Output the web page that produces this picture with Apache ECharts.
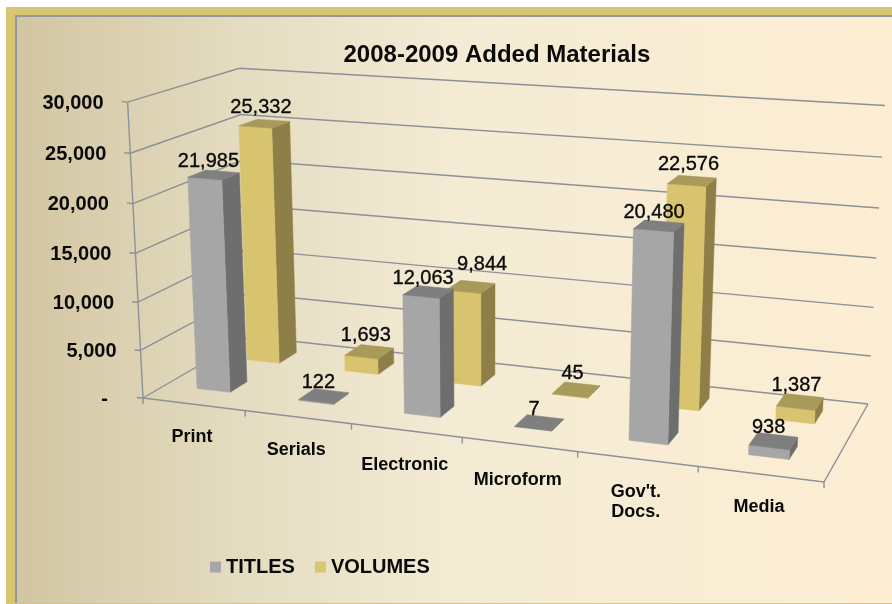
<!DOCTYPE html>
<html><head><meta charset="utf-8">
<style>html,body{margin:0;padding:0;background:#fff}#c{width:892px;height:604px}</style>
<script src="https://cdn.jsdelivr.net/npm/echarts@6/dist/echarts.min.js"></script>
</head><body><div id="c"></div>
<script>
const categories = ['Print','Serials','Electronic','Microform',"Gov't.\nDocs.",'Media'];
const titles = [21985,122,12063,7,20480,938];
const volumes = [25332,1693,9844,45,22576,1387];
const yTicks = [0,5000,10000,15000,20000,25000,30000];
const yTickLabels = ['-  ','5,000','10,000','15,000','20,000','25,000','30,000'];
const fmt = n => String(n).replace(/\B(?=(\d{3})+$)/g, ',');

// camera: a projective map of the plot box, fitted to where its corners land on screen
function makeCamera(q,tops){
  const [p0,p1,p2,p3]=q;
  const dx1=p1[0]-p2[0],dx2=p3[0]-p2[0],dx3=p0[0]-p1[0]+p2[0]-p3[0];
  const dy1=p1[1]-p2[1],dy2=p3[1]-p2[1],dy3=p0[1]-p1[1]+p2[1]-p3[1];
  const den=dx1*dy2-dx2*dy1;
  const g=(dx3*dy2-dx2*dy3)/den,h=(dx1*dy3-dx3*dy1)/den;
  const a=p1[0]-p0[0]+g*p1[0],b=p3[0]-p0[0]+h*p3[0],c=p0[0];
  const d=p1[1]-p0[1]+g*p1[1],e=p3[1]-p0[1]+h*p3[1],f=p0[1];
  // least squares for the height column (kx,ky,m)
  const rows=[];
  tops.forEach(([u,w,X,Y])=>{
    const S=g*u+h*w+1,Nx=a*u+b*w+c,Ny=d*u+e*w+f;
    rows.push([1,0,-X,X*S-Nx]);
    rows.push([0,1,-Y,Y*S-Ny]);
  });
  const A=[[0,0,0,0],[0,0,0,0],[0,0,0,0]];
  rows.forEach(r=>{for(let i=0;i<3;i++){for(let j=0;j<3;j++)A[i][j]+=r[i]*r[j];A[i][3]+=r[i]*r[3];}});
  for(let i=0;i<3;i++){
    let p=i;for(let k=i+1;k<3;k++)if(Math.abs(A[k][i])>Math.abs(A[p][i]))p=k;
    [A[i],A[p]]=[A[p],A[i]];
    for(let k=0;k<3;k++){if(k===i)continue;const t=A[k][i]/A[i][i];for(let j=i;j<4;j++)A[k][j]-=t*A[i][j];}
  }
  const kx=A[0][3]/A[0][0],ky=A[1][3]/A[1][1],m=A[2][3]/A[2][2];
  return (u,w,v)=>{const s=g*u+h*w+1+m*v;return [(a*u+b*w+c+kx*v)/s,(d*u+e*w+f+ky*v)/s];};
}
const camera = makeCamera([[143,398],[824,482],[868,404],[249,336.5]],
  [[0,0,128,102],[0,1,239,68],[1,1,885,106]]);
const GRID = {left:143,top:102,width:681,height:296};
function project(px,py,depth){
  return camera((px-GRID.left)/GRID.width,depth,(GRID.top+GRID.height-py)/GRID.height);
}
const LINE='#8d9097';
const DEPTH={TITLES:[0.2,0.36],VOLUMES:[0.66,0.84]};
const BAR=0.33, BAR_SHIFT={TITLES:-2.5,VOLUMES:0};
const textCol='#0a0a0a';
const LABEL_OFFSET=[[-7.5,-13.5],[-3.5,-16.5]];
const LABEL_NUDGE={'1:2':[15,-6]};
const CAT_NUDGE={2:2,3:3};

function barItem(name,front,side,top){
  return function(params,api){
    const i=api.value(0),val=api.value(1);
    const base=api.coord([i,0]),head=api.coord([i,val]);
    const half=api.size([1,0])[0]*BAR/2;
    const [d0,d1]=DEPTH[name];
    const xl=base[0]-half+BAR_SHIFT[name],xr=base[0]+half+BAR_SHIFT[name],y0=base[1],y1=head[1];
    const poly=(pts,fill)=>({type:'polygon',shape:{points:pts},style:{fill,stroke:fill,lineWidth:0.5}});
    return {type:'group',children:[
      poly([project(xr,y0,d0),project(xr,y0,d1),project(xr,y1,d1),project(xr,y1,d0)],side),
      poly([project(xl,y0,d0),project(xr,y0,d0),project(xr,y1,d0),project(xl,y1,d0)],front),
      poly([project(xl,y1,d0),project(xr,y1,d0),project(xr,y1,d1),project(xl,y1,d1)],top)
    ]};
  };
}
function labelItem(params,api){
  const i=api.value(0),val=api.value(1),s=api.value(2);
  const base=api.coord([i,val]);
  const d=s===0?DEPTH.TITLES:DEPTH.VOLUMES;
  const p=project(base[0],base[1],(d[0]+d[1])/2);
  const o=LABEL_OFFSET[s],n=LABEL_NUDGE[s+':'+i]||[0,0];
  return {type:'text',x:p[0]+o[0]+n[0],y:p[1]+o[1]+n[1],style:{text:fmt(val),fill:textCol,font:'20px "Liberation Sans"',align:'center',verticalAlign:'middle',stroke:textCol,lineWidth:0.35}};
}
function gridItem(params,api){
  const val=api.value(0),idx=params.dataIndex;
  const cs=params.coordSys,L=cs.x,R=cs.x+cs.width;
  const y=api.coord([0,val])[1];
  const a=project(L,y,0),b=project(L,y,1),c=project(R,y,1);
  const st={stroke:LINE,lineWidth:1.4,fill:null};
  const kids=[
    {type:'polyline',shape:{points:[a,b,c]},style:st},
    {type:'line',shape:{x1:a[0]-6,y1:a[1]-0.5,x2:a[0],y2:a[1]},style:st},
    {type:'text',x:a[0]-24,y:a[1]+1,style:{text:yTickLabels[idx],fill:textCol,font:'bold 20px "Liberation Sans"',align:'right',verticalAlign:'middle'}}
  ];
  if(val===0){
    const d=project(R,y,0);
    kids.push({type:'polyline',shape:{points:[a,d,c]},style:st});
    const top=project(L,api.coord([0,30000])[1],0);
    kids.push({type:'line',shape:{x1:a[0],y1:a[1],x2:top[0],y2:top[1]},style:st});
  }
  return {type:'group',children:kids};
}
function catItem(params,api){
  const i=api.value(0);
  const c=api.coord([i,0]),half=api.size([1,0])[0]/2,y=c[1];
  const mid=project(c[0],y,0),tick=project(c[0]+half,y,0);
  const st={stroke:LINE,lineWidth:1.4};
  const kids=[
    {type:'line',shape:{x1:tick[0],y1:tick[1],x2:tick[0],y2:tick[1]+6},style:st},
    {type:'text',x:mid[0]-1.5,y:mid[1]+23+(CAT_NUDGE[i]||0),style:{text:categories[i],fill:textCol,font:'bold 18px "Liberation Sans"',align:'center',verticalAlign:'top',lineHeight:20}}
  ];
  if(i===0){const t0=project(c[0]-half,y,0);kids.push({type:'line',shape:{x1:t0[0],y1:t0[1],x2:t0[0],y2:t0[1]+6},style:st});}
  return {type:'group',children:kids};
}

const chart=echarts.init(document.getElementById('c'));
chart.setOption({
  animation:false,
  backgroundColor:'#ffffff',
  title:{text:'2008-2009 Added Materials',left:338.5,top:38,textStyle:{fontFamily:'Liberation Sans',fontSize:24,fontWeight:'bold',color:textCol}},
  legend:{data:['TITLES','VOLUMES'],left:205,top:552,itemWidth:11,itemHeight:11,itemGap:20,icon:'rect',
    textStyle:{fontFamily:'Liberation Sans',fontSize:20,fontWeight:'bold',color:textCol}},
  grid:Object.assign({},GRID),
  xAxis:{type:'category',data:categories,show:false},
  yAxis:{type:'value',min:0,max:30000,interval:5000,show:false},
  graphic:[
    {type:'rect',z:-10,silent:true,shape:{x:6,y:7,width:886,height:597},style:{fill:'#d8c672'}},
    {type:'rect',z:-9,silent:true,shape:{x:15,y:15,width:877,height:588},style:{fill:'#96969c'}},
    {type:'rect',z:-8,silent:true,shape:{x:17,y:17,width:875,height:586},style:{fill:new echarts.graphic.LinearGradient(0,0,1,0,[
      {offset:0,color:'#d2c5a2'},{offset:0.25,color:'#e4dcc0'},{offset:0.5,color:'#f3ebd4'},{offset:1,color:'#fdeed3'}])}}
  ],
  series:[
    {name:'grid',type:'custom',z:1,silent:true,renderItem:gridItem,clip:false,encode:{y:0},data:yTicks.map(v=>[v])},
    {name:'cats',type:'custom',z:1,silent:true,renderItem:catItem,clip:false,encode:{x:0},data:categories.map((c,i)=>[i])},
    {name:'VOLUMES',type:'custom',z:2,renderItem:barItem('VOLUMES','#d8c46f','#8e7f48','#a89a58'),clip:false,itemStyle:{color:'#d8c66e'},encode:{x:0,y:1},data:volumes.map((v,i)=>[i,v])},
    {name:'TITLES',type:'custom',z:3,renderItem:barItem('TITLES','#a6a6a6','#6e6e6e','#7f7f7f'),clip:false,itemStyle:{color:'#a6a6aa'},encode:{x:0,y:1},data:titles.map((v,i)=>[i,v])},
    {name:'labels',type:'custom',z:4,silent:true,renderItem:labelItem,clip:false,encode:{x:0,y:1},
      data:titles.map((v,i)=>[i,v,0]).concat(volumes.map((v,i)=>[i,v,1]))}
  ]
});
</script></body></html>
